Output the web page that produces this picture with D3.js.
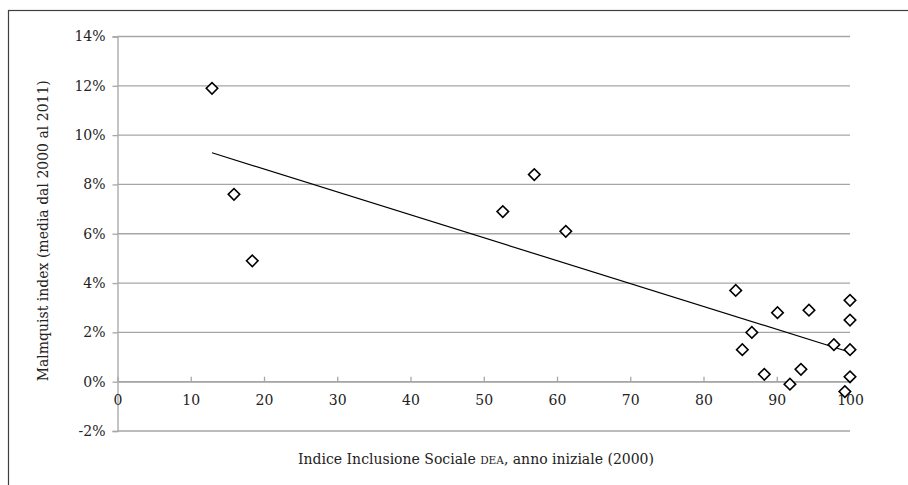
<!DOCTYPE html>
<html>
<head>
<meta charset="utf-8">
<script src="https://cdn.jsdelivr.net/npm/d3@7"></script>
<style>
  body { margin: 0; background: #fff; }
  svg { display: block; font-family: "DejaVu Serif", "Liberation Serif", serif; }
</style>
</head>
<body>
<div id="chart"></div>
<script>
// Indice Inclusione Sociale DEA (2000) vs Malmquist index (%)
const inclusione = [12.9, 15.9, 18.4, 52.6, 56.9, 61.2, 84.4, 85.3, 86.6, 88.3, 90.1, 91.8, 93.3, 94.4, 97.8, 99.3, 100, 100, 100, 100];
const malmquist  = [11.9, 7.6, 4.9, 6.9, 8.4, 6.1, 3.7, 1.3, 2.0, 0.3, 2.8, -0.1, 0.5, 2.9, 1.5, -0.4, 3.3, 2.5, 1.3, 0.2];
const xTicks = [0, 10, 20, 30, 40, 50, 60, 70, 80, 90, 100];
const yTicks = [-2, 0, 2, 4, 6, 8, 10, 12, 14];

const width = 908, height = 485;
const margin = { left: 117.5, right: 58, top: 36.5, bottom: 54 };
const fontFam = '"DejaVu Serif", "Liberation Serif", serif';

const svg = d3.select("#chart").append("svg")
  .attr("width", width)
  .attr("height", height);

// outer chart border (continues past right/bottom edges)
svg.append("rect")
  .attr("x", 8.5).attr("y", 10.5)
  .attr("width", width + 20).attr("height", height + 20)
  .attr("fill", "none")
  .attr("stroke", "#404040")
  .attr("stroke-width", 1.2);

const x = d3.scaleLinear().domain([0, 100]).range([margin.left, width - margin.right]);
const y = d3.scaleLinear().domain([-2, 14]).range([height - margin.bottom, margin.top]);

// gridlines
svg.append("g")
  .selectAll("line")
  .data(yTicks)
  .join("line")
  .attr("x1", x(0)).attr("x2", x(100))
  .attr("y1", d => y(d)).attr("y2", d => y(d))
  .attr("stroke", "#a6a6a6")
  .attr("stroke-width", 1.3);

// y axis
const yAxis = svg.append("g")
  .attr("transform", `translate(${x(0)},0)`)
  .call(d3.axisLeft(y).tickValues(yTicks).tickSize(5).tickPadding(7).tickFormat(d => d + "%"))
  .attr("font-family", fontFam)
  .attr("font-size", 14);
yAxis.select(".domain").attr("stroke", "#a6a6a6").attr("stroke-width", 1.3);
yAxis.selectAll(".tick line").attr("stroke", "#a6a6a6").attr("stroke-width", 1.3);
yAxis.selectAll("text").attr("fill", "#222");

// x axis sits on the 0% line, ticks point up
const xAxis = svg.append("g")
  .attr("transform", `translate(0,${y(0)})`)
  .call(d3.axisTop(x).tickValues(xTicks).tickSize(5).tickSizeOuter(0))
  .attr("font-family", fontFam)
  .attr("font-size", 14);
xAxis.select(".domain").attr("stroke", "#a6a6a6").attr("stroke-width", 1.3);
xAxis.selectAll(".tick line").attr("stroke", "#a6a6a6").attr("stroke-width", 1.3);
xAxis.selectAll("text")
  .attr("y", 23)
  .attr("dy", null)
  .attr("fill", "#222");

// linear trend line (least squares over the data)
const mx = d3.mean(inclusione), my = d3.mean(malmquist);
const slope = d3.sum(inclusione, (v, i) => (v - mx) * (malmquist[i] - my)) /
              d3.sum(inclusione, v => (v - mx) * (v - mx));
const icpt = my - slope * mx;
const [x0, x1] = d3.extent(inclusione);
svg.append("line")
  .attr("x1", x(x0)).attr("y1", y(icpt + slope * x0))
  .attr("x2", x(x1)).attr("y2", y(icpt + slope * x1))
  .attr("stroke", "#000")
  .attr("stroke-width", 1.2);

// diamond markers
const diamond = d3.symbol().type(d3.symbolSquare).size(66);
svg.append("g")
  .selectAll("path")
  .data(inclusione)
  .join("path")
  .attr("d", diamond)
  .attr("transform", (d, i) => `translate(${x(d)},${y(malmquist[i])}) rotate(45)`)
  .attr("fill", "#fff")
  .attr("stroke", "#000")
  .attr("stroke-width", 1.6);

// axis titles
svg.append("text")
  .attr("transform", `translate(48,${(y(14) + y(-2)) / 2 - 3}) rotate(-90)`)
  .attr("text-anchor", "middle")
  .attr("font-size", 14)
  .attr("fill", "#222")
  .text("Malmquist index (media dal 2000 al 2011)");

const xt = svg.append("text")
  .attr("x", 476)
  .attr("y", 464)
  .attr("text-anchor", "middle")
  .attr("font-size", 14)
  .attr("fill", "#222");
xt.append("tspan").text("Indice Inclusione Sociale ");
xt.append("tspan").attr("font-size", 10.5).text("DEA");
xt.append("tspan").text(", anno iniziale (2000)");
</script>
</body>
</html>
